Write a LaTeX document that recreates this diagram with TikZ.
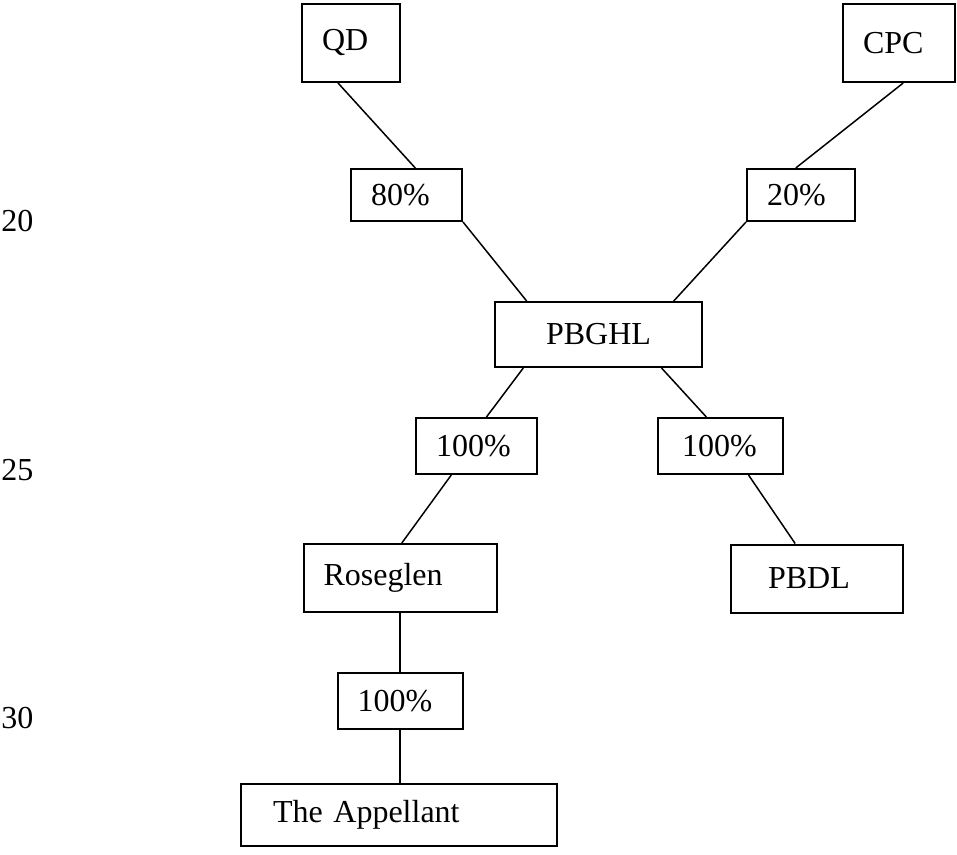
\documentclass[tikz,border=0pt]{standalone}
\usepackage{fontspec}
\setmainfont{Liberation Serif}

\tikzset{
  company/.style = {draw, line width=1pt, align=left, inner xsep=10pt, inner ysep=2pt},
  share/.style = {company, minimum height=26pt},
}

\begin{document}
\begin{tikzpicture}[x=0.5pt, y=-0.5pt, font=\fontsize{16}{19}\selectfont]
  \useasboundingbox (0,0) rectangle (957,855);

  % margin line numbers
  \node (n20) [anchor=base west, inner sep=0pt] at (1,232) {20};
  \node (n25) [anchor=base west, inner sep=0pt] at (1,480) {25};
  \node (n30) [anchor=base west, inner sep=0pt] at (1,728) {30};

  \node (QD) [company, text width=29pt, minimum height=39pt] at (351,43) {QD};
  \node (CPC) [company, text width=36pt, minimum height=39pt] at (899,43) {CPC};
  \node (p80) [share, text width=35.5pt] at (406.5,195) {80\%};
  \node (p20) [share, text width=34pt] at (801,195) {20\%};
  \node (PBGHL) [company, align=center, text width=83.5pt, minimum height=32.5pt] at (598.5,334.5) {PBGHL};
  \node (p100a) [share, text width=40.5pt, minimum height=28pt] at (476.5,446) {100\%};
  \node (p100b) [share, inner xsep=12pt, text width=38.5pt, minimum height=28pt] at (720.5,446) {100\%};
  \node (Roseglen) [company, text width=76.5pt, minimum height=34pt] at (400,578) {Roseglen};
  \node (PBDL) [company, inner xsep=18.5pt, text width=49pt, minimum height=34pt] at (817,578.5) {PBDL};
  \node (p100c) [share, text width=42.5pt, minimum height=28pt] at (400,701) {100\%};
  \node (App) [company, inner xsep=16pt, text width=126pt, minimum height=31pt] at (399,815) {The Appellant};

  \path [line width=0.75pt]
    (QD.252) edge (p80.72)
    (CPC.276) edge (p20.101)
    (p80.south east) edge (PBGHL.155)
    (p20.south west) edge (PBGHL.24)
    (PBGHL.204) edge (p100a.71)
    (PBGHL.332) edge (p100b.116)
    (p100a.229) edge (Roseglen.87)
    (p100b.314) edge (PBDL.122)
    (Roseglen) edge (p100c)
    (p100c) edge (App.north -| p100c);
\end{tikzpicture}
\end{document}
